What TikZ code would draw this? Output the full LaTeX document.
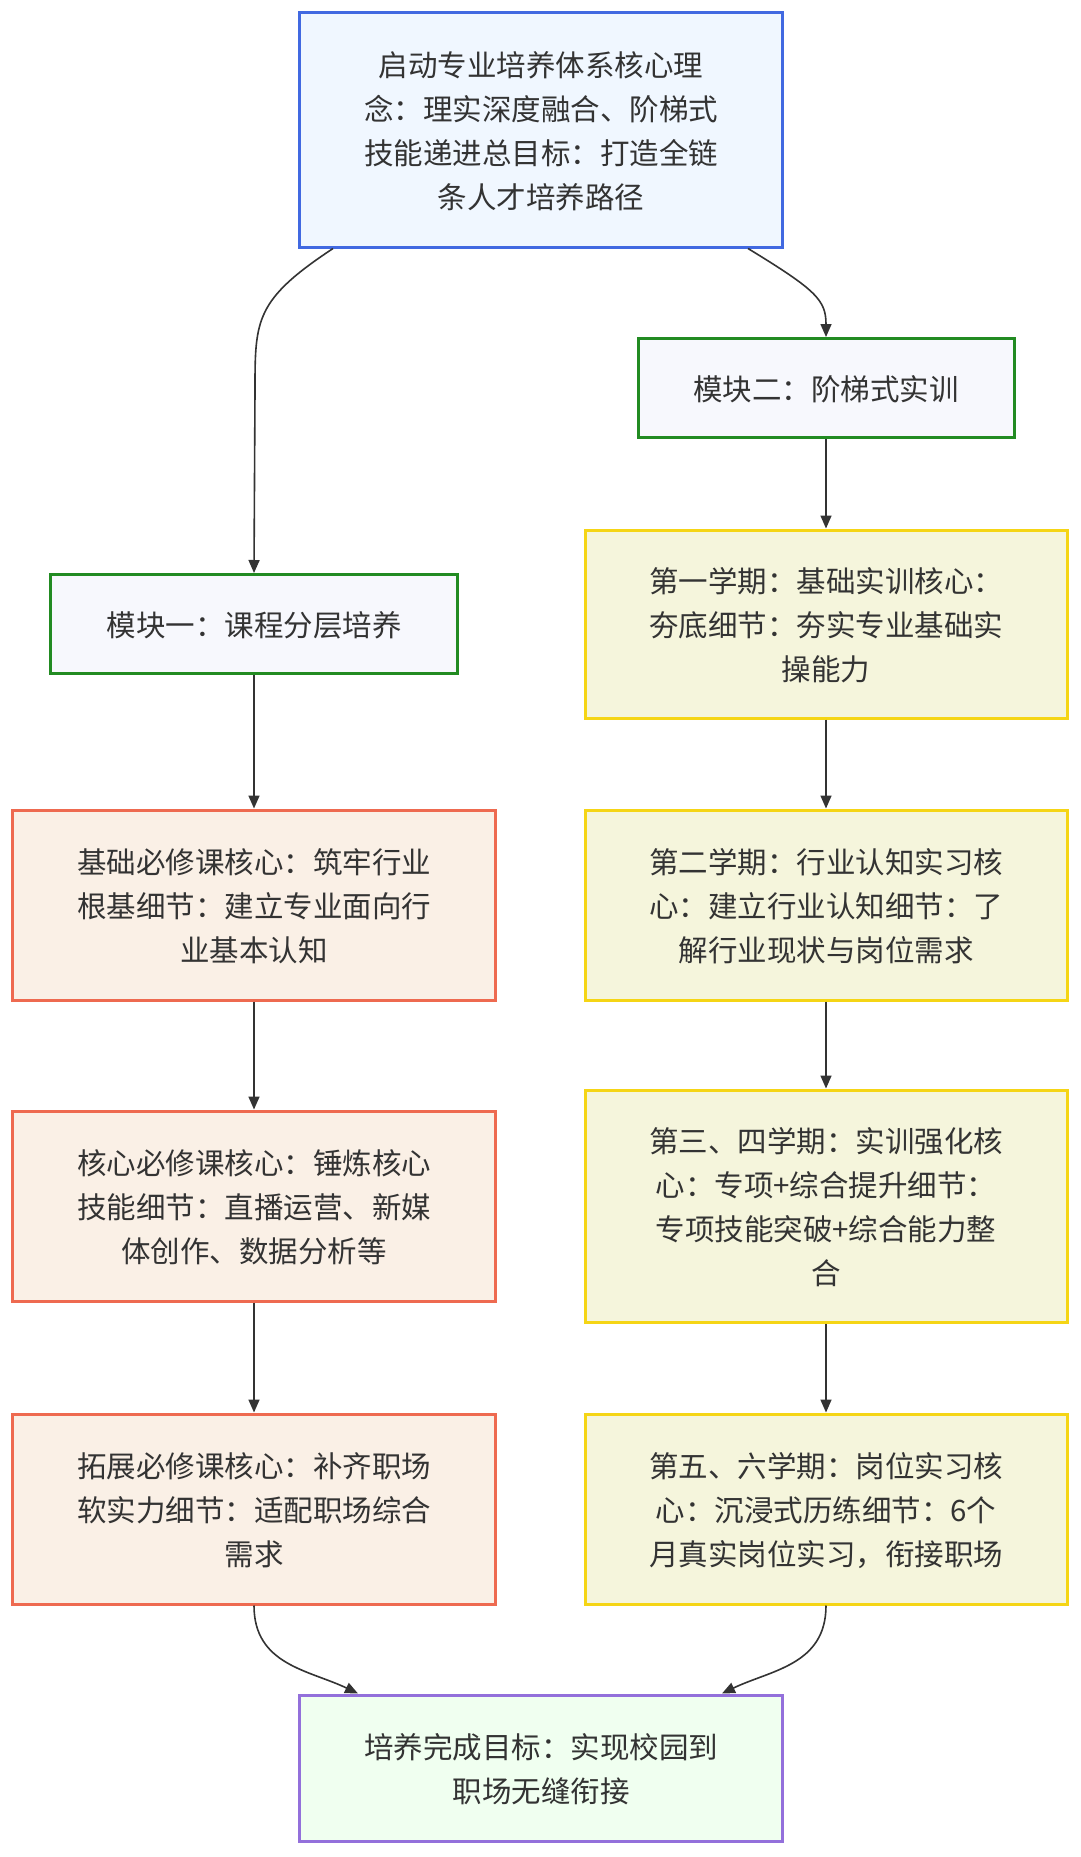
\documentclass[tikz,border=0pt]{standalone}
\usepackage{fontspec}
\newfontfamily\cjk{Noto Sans CJK SC}
\usetikzlibrary{arrows.meta}
\definecolor{txt}{HTML}{333333}
\definecolor{blueS}{HTML}{4169E1}\definecolor{blueF}{HTML}{F0F7FF}
\definecolor{greenS}{HTML}{228B22}\definecolor{greenF}{HTML}{F7F8FD}
\definecolor{goldS}{HTML}{F5D515}\definecolor{goldF}{HTML}{F5F5DC}
\definecolor{redS}{HTML}{EE6A50}\definecolor{redF}{HTML}{FAF0E6}
\definecolor{purS}{HTML}{9370DB}\definecolor{purF}{HTML}{F0FFF0}
\definecolor{edge}{HTML}{333333}
\tikzset{
  box/.style={draw, line width=3pt, align=center, text=txt, inner sep=0pt,
    font=\cjk\fontsize{29.5}{44}\selectfont, text depth=0pt},
  topbox/.style={box, draw=blueS, fill=blueF, minimum width=483pt, minimum height=234pt},
  modbox/.style={box, draw=greenS, fill=greenF, minimum height=99pt},
  sembox/.style={box, draw=goldS, fill=goldF, minimum width=482pt},
  crsbox/.style={box, draw=redS, fill=redF, minimum width=483pt, minimum height=190pt},
  endbox/.style={box, draw=purS, fill=purF, minimum width=483pt, minimum height=146pt},
  conn/.style={draw=edge, line width=1.6pt, -{Triangle[length=13pt,width=11pt]}}
}
\begin{document}
\begin{tikzpicture}[x=1pt,y=-1pt]
\fill[white] (0,0) rectangle (1080,1857);
\useasboundingbox (0,0) rectangle (1080,1857);

\node[topbox] (A) at (541,130) {启动专业培养体系核心理\\念：理实深度融合、阶梯式\\技能递进总目标：打造全链\\条人才培养路径};
\node[modbox, minimum width=376pt] (M2) at (826,388) {模块二：阶梯式实训};
\node[modbox, minimum width=407pt] (M1) at (254,624) {模块一：课程分层培养};
\node[sembox, minimum height=188pt] (S1) at (826,624) {第一学期：基础实训核心：\\夯底细节：夯实专业基础实\\操能力};
\node[crsbox] (B1) at (254,905) {基础必修课核心：筑牢行业\\根基细节：建立专业面向行\\业基本认知};
\node[sembox, minimum height=190pt] (S2) at (826,905) {第二学期：行业认知实习核\\心：建立行业认知细节：了\\解行业现状与岗位需求};
\node[crsbox] (B2) at (254,1206) {核心必修课核心：锤炼核心\\技能细节：直播运营、新媒\\体创作、数据分析等};
\node[sembox, minimum height=232pt] (S3) at (826,1206) {第三、四学期：实训强化核\\心：专项+综合提升细节：\\专项技能突破+综合能力整\\合};
\node[crsbox] (B3) at (254,1509) {拓展必修课核心：补齐职场\\软实力细节：适配职场综合\\需求};
\node[sembox, minimum height=190pt] (S4) at (826,1509) {第五、六学期：岗位实习核\\心：沉浸式历练细节：6个\\月真实岗位实习，衔接职场};
\node[endbox] (F) at (541,1768) {培养完成目标：实现校园到\\职场无缝衔接};

\draw[conn] ([xshift=-208pt]A.south) .. controls (255,300) and (255,320) .. (255,390) -- (M1.north);
\draw[conn] ([xshift=207pt]A.south) .. controls (816,290) and (826,300) .. (M2.north);
\draw[conn] (M2) -- (S1);
\draw[conn] (S1) -- (S2);
\draw[conn] (S2) -- (S3);
\draw[conn] (S3) -- (S4);
\draw[conn] (M1) -- (B1);
\draw[conn] (B1) -- (B2);
\draw[conn] (B2) -- (B3);
\draw[conn] (B3.south) .. controls (254,1665) and (309,1670) .. ([xshift=-183pt]F.north);
\draw[conn] (S4.south) .. controls (826,1665) and (771,1670) .. ([xshift=181pt]F.north);
\end{tikzpicture}
\end{document}
